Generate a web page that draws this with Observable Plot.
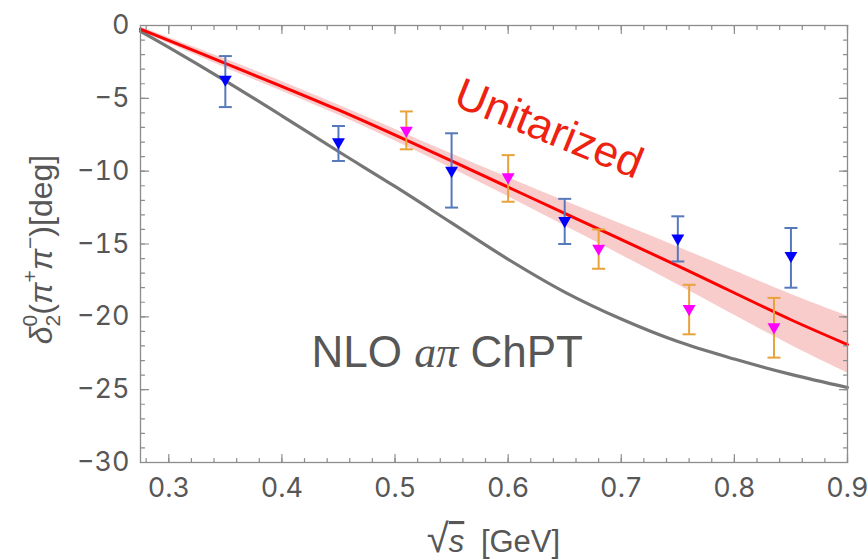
<!DOCTYPE html>
<html><head><meta charset="utf-8">
<script src="https://cdn.jsdelivr.net/npm/d3@7"></script>
<script src="https://cdn.jsdelivr.net/npm/@observablehq/plot@0.6"></script>
<style>body{margin:0;background:#fff}</style>
</head><body><div id="chart"></div>
<script>
// tick labels
const xTicks = [0.3, 0.4, 0.5, 0.6, 0.7, 0.8, 0.9];
const yTicks = [0, -5, -10, -15, -20, -25, -30];
const xMinor = d3.range(14, 46).map(i => i / 50);   // every 0.02
const yMinor = d3.range(-30, 1);                    // every 1

// data set 1 (blue)
const xBlue  = [0.35, 0.45, 0.55, 0.65, 0.75, 0.85];
const yBlue  = [-3.7, -8.0, -9.95, -13.4, -14.6, -15.8];
const loBlue = [-5.6, -9.3, -12.5, -15.0, -16.2, -18.0];
const hiBlue = [-2.1, -6.9, -7.4, -11.9, -13.1, -13.9];

// data set 2 (magenta / orange)
const xMag  = [0.51, 0.60, 0.68, 0.76, 0.835];
const yMag  = [-7.2, -10.4, -15.3, -19.45, -20.7];
const loMag = [-8.5, -12.1, -16.7, -21.2, -22.8];
const hiMag = [-5.9, -8.9, -14.0, -17.8, -18.7];

// Unitarized curve and band
const xRed  = [0.275, 0.35, 0.45, 0.55, 0.65, 0.75, 0.85, 0.9];
const yRed  = [-0.25, -2.6, -5.8, -9.3, -12.9, -16.5, -20.2, -21.9];
const loRed = [-0.4, -2.9, -6.15, -9.8, -13.75, -17.8, -21.95, -23.85];
const hiRed = [-0.1, -2.3, -5.45, -8.8, -12.05, -15.2, -18.45, -19.95];

// NLO ChPT curve
const xGray = [0.275, 0.30, 0.35, 0.40, 0.45, 0.50, 0.55, 0.60, 0.65, 0.70, 0.75, 0.80, 0.85, 0.90];
const yGray = [-0.4, -1.5, -3.8, -6.2, -8.65, -11.05, -13.55, -16.05, -18.3, -20.15, -21.7, -22.9, -23.95, -24.85];

const blue = xBlue.map((x, i) => ({x, y: yBlue[i], lo: loBlue[i], hi: hiBlue[i]}));
const mag = xMag.map((x, i) => ({x, y: yMag[i], lo: loMag[i], hi: hiMag[i]}));
const red = xRed.map((x, i) => ({x, y: yRed[i], lo: loRed[i], hi: hiRed[i]}));
const gray = xGray.map((x, i) => ({x, y: yGray[i]}));

const tickShape = {draw(context, l) { context.moveTo(0, 0); context.lineTo(0, -l); }};
const capSymbol = {draw(context, size) { const w = Math.sqrt(size / Math.PI); context.moveTo(-w, 0); context.lineTo(w, 0); }};
const frameColor = "#8c8c8c";
const textColor = "#575757";
const font = "Liberation Sans, Arial, sans-serif";
const tickFont = "Inter, Liberation Sans, sans-serif";
const tickOpts = (rotate, anchor, len) => ({frameAnchor: anchor, rotate, length: len, anchor: "start", shape: tickShape, stroke: frameColor, strokeWidth: 1.2, fill: "none"});

const plot = Plot.plot({
  width: 868, height: 560,
  marginLeft: 140, marginRight: 21, marginTop: 25, marginBottom: 98,
  style: {fontFamily: tickFont, fontSize: "27px", color: textColor, background: "#fff"},
  x: {domain: [0.275, 0.9]},
  y: {domain: [-30, 0]},
  marks: [
    Plot.areaY(red, {x: "x", y1: "lo", y2: "hi", fill: "#f9cccc", curve: "catmull-rom"}),
    Plot.line(gray, {x: "x", y: "y", stroke: "#767676", strokeWidth: 3.2, curve: "catmull-rom"}),
    Plot.line(red, {x: "x", y: "y", stroke: "#ff0000", strokeWidth: 3, curve: "catmull-rom"}),
    Plot.ruleX(blue, {x: "x", y1: "lo", y2: "hi", stroke: "#5679bc", strokeWidth: 2}),
    Plot.dot(blue, {x: "x", y: "lo", symbol: capSymbol, r: 6.5, stroke: "#5679bc", strokeWidth: 2, fill: "none"}),
    Plot.dot(blue, {x: "x", y: "hi", symbol: capSymbol, r: 6.5, stroke: "#5679bc", strokeWidth: 2, fill: "none"}),
    Plot.ruleX(mag, {x: "x", y1: "lo", y2: "hi", stroke: "#e8a23a", strokeWidth: 2}),
    Plot.dot(mag, {x: "x", y: "lo", symbol: capSymbol, r: 6.5, stroke: "#e8a23a", strokeWidth: 2, fill: "none"}),
    Plot.dot(mag, {x: "x", y: "hi", symbol: capSymbol, r: 6.5, stroke: "#e8a23a", strokeWidth: 2, fill: "none"}),
    Plot.dot(blue, {x: "x", y: "y", symbol: "triangle", rotate: 180, r: 4.8, fill: "#0000ff", stroke: "none"}),
    Plot.dot(mag, {x: "x", y: "y", symbol: "triangle", rotate: 180, r: 4.8, fill: "#ff00ff", stroke: "none"}),
    // inward ticks on all four sides
    Plot.vector(xTicks, {x: d => d, ...tickOpts(0, "bottom", 8)}),
    Plot.vector(xMinor, {x: d => d, ...tickOpts(0, "bottom", 4)}),
    Plot.vector(xTicks, {x: d => d, ...tickOpts(180, "top", 8)}),
    Plot.vector(xMinor, {x: d => d, ...tickOpts(180, "top", 4)}),
    Plot.vector(yTicks, {y: d => d, ...tickOpts(90, "left", 8)}),
    Plot.vector(yMinor, {y: d => d, ...tickOpts(90, "left", 4)}),
    Plot.vector(yTicks, {y: d => d, ...tickOpts(270, "right", 8)}),
    Plot.vector(yMinor, {y: d => d, ...tickOpts(270, "right", 4)}),
    Plot.frame({stroke: frameColor, strokeWidth: 1.3}),
    Plot.axisX(xTicks, {tickSize: 0, tickPadding: 15, fontSize: 27, label: null, tickFormat: d3.format(".1f")}),
    Plot.axisY(yTicks, {tickSize: 0, tickPadding: 11, fontSize: 27, label: null, tickFormat: d => (d < 0 ? "\u2212" : "") + Math.abs(d)})
  ]
});
document.getElementById("chart").appendChild(plot);

const svg = d3.select(plot);
svg.selectAll("text").style("font-size", "27px").style("font-family", tickFont);

// annotations and axis titles (real text, positioned through the plot's scales)
const sx = plot.scale("x"), sy = plot.scale("y");

// Unitarized label
svg.append("text")
  .attr("transform", `translate(${sx.apply(0.637)},${sy.apply(-7.03)}) rotate(22)`)
  .attr("text-anchor", "middle").attr("dy", "0.36em")
  .style("font-family", font).style("font-size", "44px").attr("fill", "#ee2211")
  .text("Unitarized");

// NLO a\u03c0 ChPT label
const nlo = svg.append("text")
  .attr("x", sx.apply(0.4266)).attr("y", sy.apply(-23.45))
  .attr("text-anchor", "start")
  .style("font-family", font).style("font-size", "44px").attr("fill", textColor);
nlo.append("tspan").text("NLO ");
nlo.append("tspan").style("font-family", "Liberation Serif, DejaVu Serif, serif").style("font-style", "italic").text("a\u03c0");
nlo.append("tspan").text(" ChPT");

// x title
const xt = svg.append("text")
  .attr("x", (sx.apply(0.275) + sx.apply(0.9)) / 2).attr("y", 552)
  .attr("text-anchor", "middle").style("font-family", font).style("font-size", "31px").attr("fill", textColor);
xt.append("tspan").style("font-size", "40px").text("\u221a");
xt.append("tspan").style("font-style", "italic").style("text-decoration", "overline").text("s");
xt.append("tspan").attr("dx", 8).text(" [GeV]");

// y title
const yc = (sy.apply(0) + sy.apply(-30)) / 2 + 6;
const yt = svg.append("text")
  .attr("transform", `translate(52,${yc}) rotate(-90)`)
  .attr("text-anchor", "middle").style("font-family", font).style("font-size", "32px").attr("fill", textColor);
yt.append("tspan").style("font-style", "italic").text("\u03b4");
yt.append("tspan").style("font-size", "21px").attr("dy", -15).text("0");
yt.append("tspan").style("font-size", "21px").attr("dx", -11.7).attr("dy", 23).text("2");
yt.append("tspan").attr("dy", -8).text("(");
yt.append("tspan").style("font-style", "italic").text("\u03c0");
yt.append("tspan").style("font-size", "21px").attr("dy", -15).text("+");
yt.append("tspan").style("font-style", "italic").attr("dy", 15).text("\u03c0");
yt.append("tspan").style("font-size", "21px").attr("dy", -15).text("\u2212");
yt.append("tspan").attr("dy", 15).text(")[deg]");
</script>
</body></html>
